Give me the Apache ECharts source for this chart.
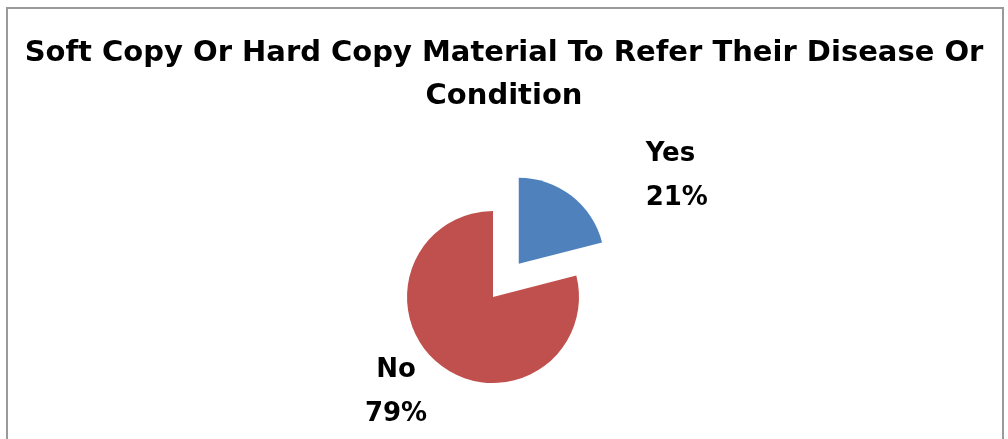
<!DOCTYPE html>
<html>
<head>
<meta charset="utf-8">
<style>
  html, body { margin: 0; padding: 0; background: #ffffff; }
  #chart { width: 1008px; height: 439px; }
</style>
<script src="https://cdn.jsdelivr.net/npm/echarts@6/dist/echarts.min.js"></script>
</head>
<body>
<div id="chart"></div>
<script>
// Survey answers: share of respondents keeping material about their condition
const categories = ['Yes', 'No'];
const values = [21, 79];
const sliceColors = ['#4F81BD', '#C0504D'];
const titleText = 'Soft Copy Or Hard Copy Material To Refer Their Disease Or\nCondition';

const chart = echarts.init(document.getElementById('chart'), null, { renderer: 'canvas' });

const labelFont = {
  fontFamily: 'DejaVu Sans',
  fontWeight: 'bold',
  fontSize: 26,
  color: '#000000',
  lineHeight: 44
};

// label shifts away from the default outside position, per slice
const labelShift = [[30, -8], [-97, 95]];

chart.setOption({
  animation: false,
  backgroundColor: '#ffffff',
  title: {
    text: titleText,
    left: 'center',
    top: 27,
    textStyle: {
      fontFamily: 'DejaVu Sans',
      fontWeight: 'bold',
      fontSize: 29,
      lineHeight: 43,
      color: '#000000'
    }
  },
  graphic: [{
    type: 'rect',
    shape: { x: 7, y: 8, width: 996, height: 440 },
    style: { fill: null, stroke: '#9a9a9a', lineWidth: 2 },
    silent: true
  }],
  series: [{
    type: 'pie',
    center: [493, 297],
    radius: 86,
    startAngle: 90,
    clockwise: true,
    selectedMode: 'multiple',
    selectedOffset: 42,
    avoidLabelOverlap: false,
    label: Object.assign({
      show: true,
      position: 'outside',
      formatter: '{b}\n{d}%',
      align: 'center'
    }, labelFont),
    labelLine: { show: false },
    emphasis: { disabled: true },
    data: categories.map((name, i) => ({
      name: name,
      value: values[i],
      selected: i === 0,
      itemStyle: { color: sliceColors[i] },
      label: { offset: i === 0 ? labelShift[0] : [0, 0] },
      select: { label: { offset: i === 0 ? labelShift[0] : [0, 0] } }
    })),
    labelLayout: function (params) {
      if (params.dataIndex === 0) {
        return {};
      }
      const s = labelShift[params.dataIndex];
      return {
        x: params.rect.x + params.rect.width / 2 + s[0],
        y: params.rect.y + params.rect.height / 2 + s[1],
        align: 'center',
        verticalAlign: 'middle'
      };
    }
  }]
});
</script>
</body>
</html>
